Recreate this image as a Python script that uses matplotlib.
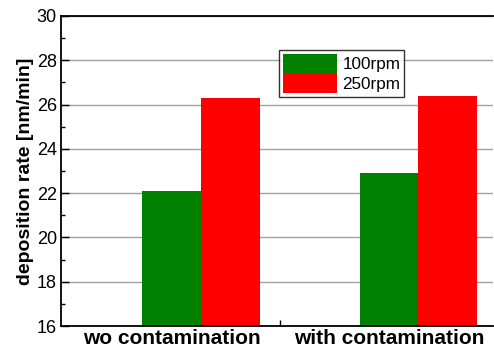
import numpy as np
import matplotlib.pyplot as plt
from matplotlib.ticker import MultipleLocator, FixedLocator

plt.rcParams['font.family'] = ['Liberation Sans', 'DejaVu Sans']

categories = ['wo contamination', 'with contamination']
rpm_100 = [22.1, 22.9]
rpm_250 = [26.3, 26.4]

x = np.arange(len(categories))
w = 0.27

fig = plt.figure(figsize=(4.94, 3.54), dpi=100)
ax = fig.add_axes([0.1235, 0.079, 0.875, 0.876])

ax.bar(x, rpm_100, w, color='#008000', label='100rpm', zorder=2)
ax.bar(x + w, rpm_250, w, color='#ff0000', label='250rpm', zorder=2)

ax.set_ylim(16, 30)
ax.set_xlim(-0.51, 1.48)
ax.yaxis.set_minor_locator(MultipleLocator(1))
ax.set_yticks([16, 18, 20, 22, 24, 26, 28, 30])
ax.grid(axis='y', color='#a0a0a0', linewidth=1, zorder=0)
ax.set_axisbelow(True)

ax.set_xticks(x)
ax.set_xticklabels(categories, fontsize=15, fontweight='bold')
ax.tick_params(axis='x', which='major', length=0, pad=2)
ax.xaxis.set_minor_locator(FixedLocator([0.5]))
ax.tick_params(axis='x', which='minor', direction='in', length=4, width=1)
ax.tick_params(axis='y', which='major', direction='in', length=6, width=1, labelsize=13, pad=3)
ax.tick_params(axis='y', which='minor', direction='in', length=3, width=1)

ax.set_ylabel('deposition rate [nm/min]', fontsize=14, fontweight='bold', labelpad=2)

for s in ['left', 'bottom', 'top']:
    ax.spines[s].set_linewidth(1.3)
ax.spines['right'].set_visible(False)

leg = ax.legend(loc='upper left', bbox_to_anchor=(0.505, 0.889), fontsize=12.3,
                frameon=True, fancybox=False, handlelength=3.2, handleheight=1.4,
                handletextpad=0.3, borderpad=0.2, labelspacing=0.0, borderaxespad=0)
leg.get_frame().set_edgecolor('black')
leg.get_frame().set_linewidth(1)

fig.savefig('out.png', dpi=100)
